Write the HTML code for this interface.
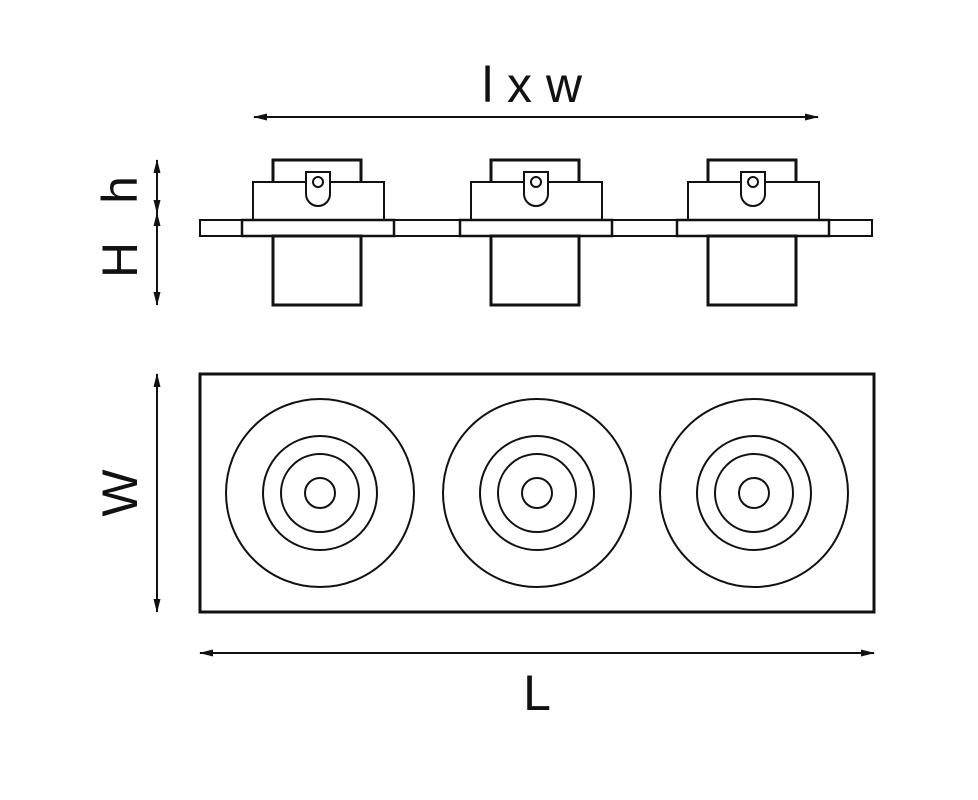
<!DOCTYPE html>
<html><head><style>body{margin:0;background:#fff}svg{display:block}</style></head><body>
<svg width="978" height="800" viewBox="0 0 978 800" xmlns="http://www.w3.org/2000/svg">
<defs>
<marker id="a" markerWidth="14" markerHeight="8" refX="13" refY="4" orient="auto-start-reverse" markerUnits="userSpaceOnUse"><path d="M0,0.5 L14,4 L0,7.5 Z" fill="#111"/></marker>
<g id="u" fill="#fff" stroke="#111">
<rect x="273" y="160" width="88" height="24" stroke-width="3"/>
<rect x="253" y="182" width="131" height="38" stroke-width="2"/>
<path d="M306,172 H330 V194 A12,12 0 0 1 306,194 Z" stroke-width="2"/>
<circle cx="318" cy="182" r="5" stroke-width="2"/>
<rect x="242" y="220" width="152" height="16" stroke-width="2.5"/>
<rect x="273" y="236" width="88" height="69" stroke-width="3"/>
</g>
<g id="c" fill="none" stroke="#111" stroke-width="2">
<circle cx="320" cy="493" r="94"/><circle cx="320" cy="493" r="57"/><circle cx="320" cy="493" r="39"/><circle cx="320" cy="493" r="15"/>
</g>
</defs>
<rect x="200" y="220" width="672" height="16" fill="#fff" stroke="#111" stroke-width="2"/>
<use href="#u"/><use href="#u" x="218"/><use href="#u" x="435"/>
<rect x="200" y="374" width="674" height="238" fill="none" stroke="#111" stroke-width="3"/>
<use href="#c"/><use href="#c" x="217"/><use href="#c" x="434"/>
<g stroke="#111" stroke-width="2" fill="none">
<line x1="254" y1="117" x2="818" y2="117" marker-start="url(#a)" marker-end="url(#a)"/>
<line x1="200" y1="653" x2="874" y2="653" marker-start="url(#a)" marker-end="url(#a)"/>
<line x1="157" y1="374" x2="157" y2="612" marker-start="url(#a)" marker-end="url(#a)"/>
<line x1="157" y1="160" x2="157" y2="213" marker-start="url(#a)" marker-end="url(#a)"/>
<line x1="157" y1="213" x2="157" y2="305" marker-start="url(#a)" marker-end="url(#a)"/>
</g>
<g font-family="Liberation Sans, sans-serif" font-weight="300" fill="#111" font-size="50">
<text x="532" y="102" text-anchor="middle">l x w</text>
<text x="537" y="710" text-anchor="middle">L</text>
<text transform="translate(137,493) rotate(-90)" text-anchor="middle">W</text>
<text transform="translate(137,260) rotate(-90)" text-anchor="middle">H</text>
<text transform="translate(137,190) rotate(-90)" text-anchor="middle">h</text>
</g>
</svg>
</body></html>
